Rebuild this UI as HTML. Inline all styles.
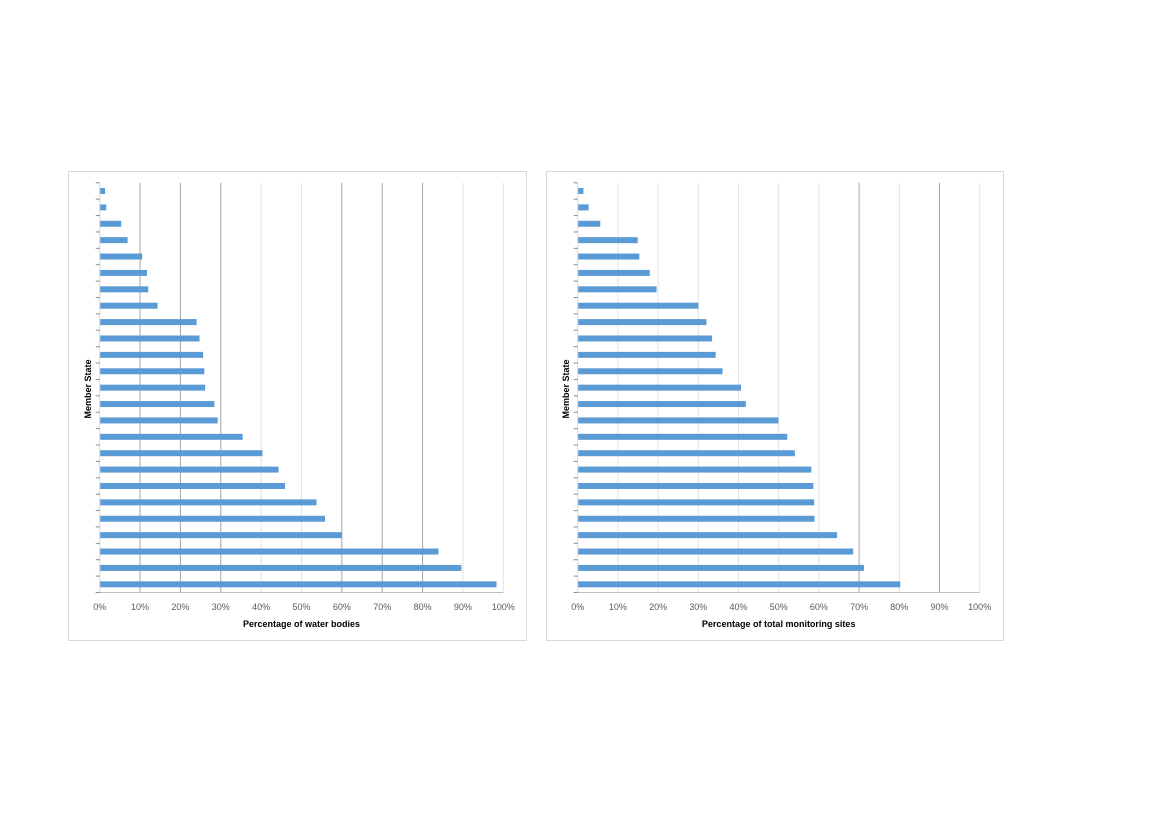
<!DOCTYPE html>
<html><head><meta charset="utf-8"><style>
body{margin:0;background:#fff;width:1169px;height:827px;overflow:hidden;font-family:"Liberation Sans",sans-serif}
svg{position:absolute;left:0;top:0}
</style></head><body>
<svg id="s" width="1169" height="827"></svg>
<script>
const categoriesCount = 25;
const waterBodies = [1.2,1.5,5.2,6.8,10.4,11.6,11.9,14.2,23.9,24.6,25.5,25.8,26.0,28.3,29.1,35.3,40.2,44.2,45.8,53.6,55.7,59.8,83.8,89.5,98.2];
const monitoringSites = [1.3,2.6,5.5,14.8,15.2,17.8,19.5,29.9,31.9,33.3,34.2,35.9,40.5,41.7,49.8,52.0,53.9,58.0,58.5,58.7,58.8,64.4,68.4,71.1,80.1];
const tickValues = [0,10,20,30,40,50,60,70,80,90,100];
const tickLabels = ["0%","10%","20%","30%","40%","50%","60%","70%","80%","90%","100%"];
const NS="http://www.w3.org/2000/svg";
const svg=document.getElementById('s');
function mk(tag,attrs,parent){const e=document.createElementNS(NS,tag);for(const k in attrs)e.setAttribute(k,attrs[k]);(parent||svg).appendChild(e);return e;}
function chart(cfg){
  const g=mk('g',{});
  
  
  const fr=mk('rect',{x:cfg.fx+0.5,y:171.5,width:cfg.fw,height:469,fill:'#fff',stroke:'#d9d9d9','stroke-width':1},g);
  
  
  const x0=cfg.x0,x1=cfg.x1,top=182.8,bot=592.5;
  const xs=v=>x0+(x1-x0)*v/100;
  const band=(bot-top)/cfg.data.length;
  tickValues.forEach((t,i)=>{
    if(t>0){
      const dark=cfg.dark.indexOf(t)>=0;
      const l=mk('line',{x1:xs(t),x2:xs(t),y1:top,y2:bot,stroke:dark?'#a6a6a6':'#e3e3e3','stroke-width':1},g);
      
      
    }
    const tx=mk('text',{x:xs(t),y:610,'text-anchor':'middle','font-size':9,fill:'#595959'},g);
    tx.textContent=tickLabels[i];
    
    
  });
  const ax=mk('line',{x1:x0-4,x2:x1,y1:bot,y2:bot,stroke:'#bfbfbf'},g);
  
  
  const ay=mk('line',{x1:x0,x2:x0,y1:top,y2:bot,stroke:'#d9d9d9'},g);
  
  
  for(let i=0;i<=cfg.data.length;i++){
    const tk=mk('line',{x1:x0-4,x2:x0,y1:top+i*band,y2:top+i*band,stroke:'#8c8c8c'},g);
    
    
  }
  cfg.data.forEach((v,i)=>{
    const cy=top+(i+0.5)*band;
    const b=mk('rect',{x:x0+0.5,y:cy-3,width:xs(v)-x0,height:6,fill:'#5b9bd5'},g);
    
    
  });
  const yt=mk('text',{x:0,y:0,transform:`translate(${cfg.ytx},389) rotate(-90)`,'text-anchor':'middle','font-size':9,'font-weight':'bold',fill:'#000'},g);
  yt.textContent='Member State';
  
  
  const xt=mk('text',{x:(x0+x1)/2,y:627,'text-anchor':'middle','font-size':9,'font-weight':'bold',fill:'#000'},g);
  xt.textContent=cfg.title;
  
  
}
chart({name:'water-bodies-chart',fx:68,fw:458,x0:99.7,x1:503.3,data:waterBodies,dark:[10,20,30,60,70,80],ytx:91,title:'Percentage of water bodies'});
chart({name:'monitoring-sites-chart',fx:546,fw:457,x0:577.7,x1:979.7,data:monitoringSites,dark:[70,90],ytx:569,title:'Percentage of total monitoring sites'});
</script>
</body></html>
